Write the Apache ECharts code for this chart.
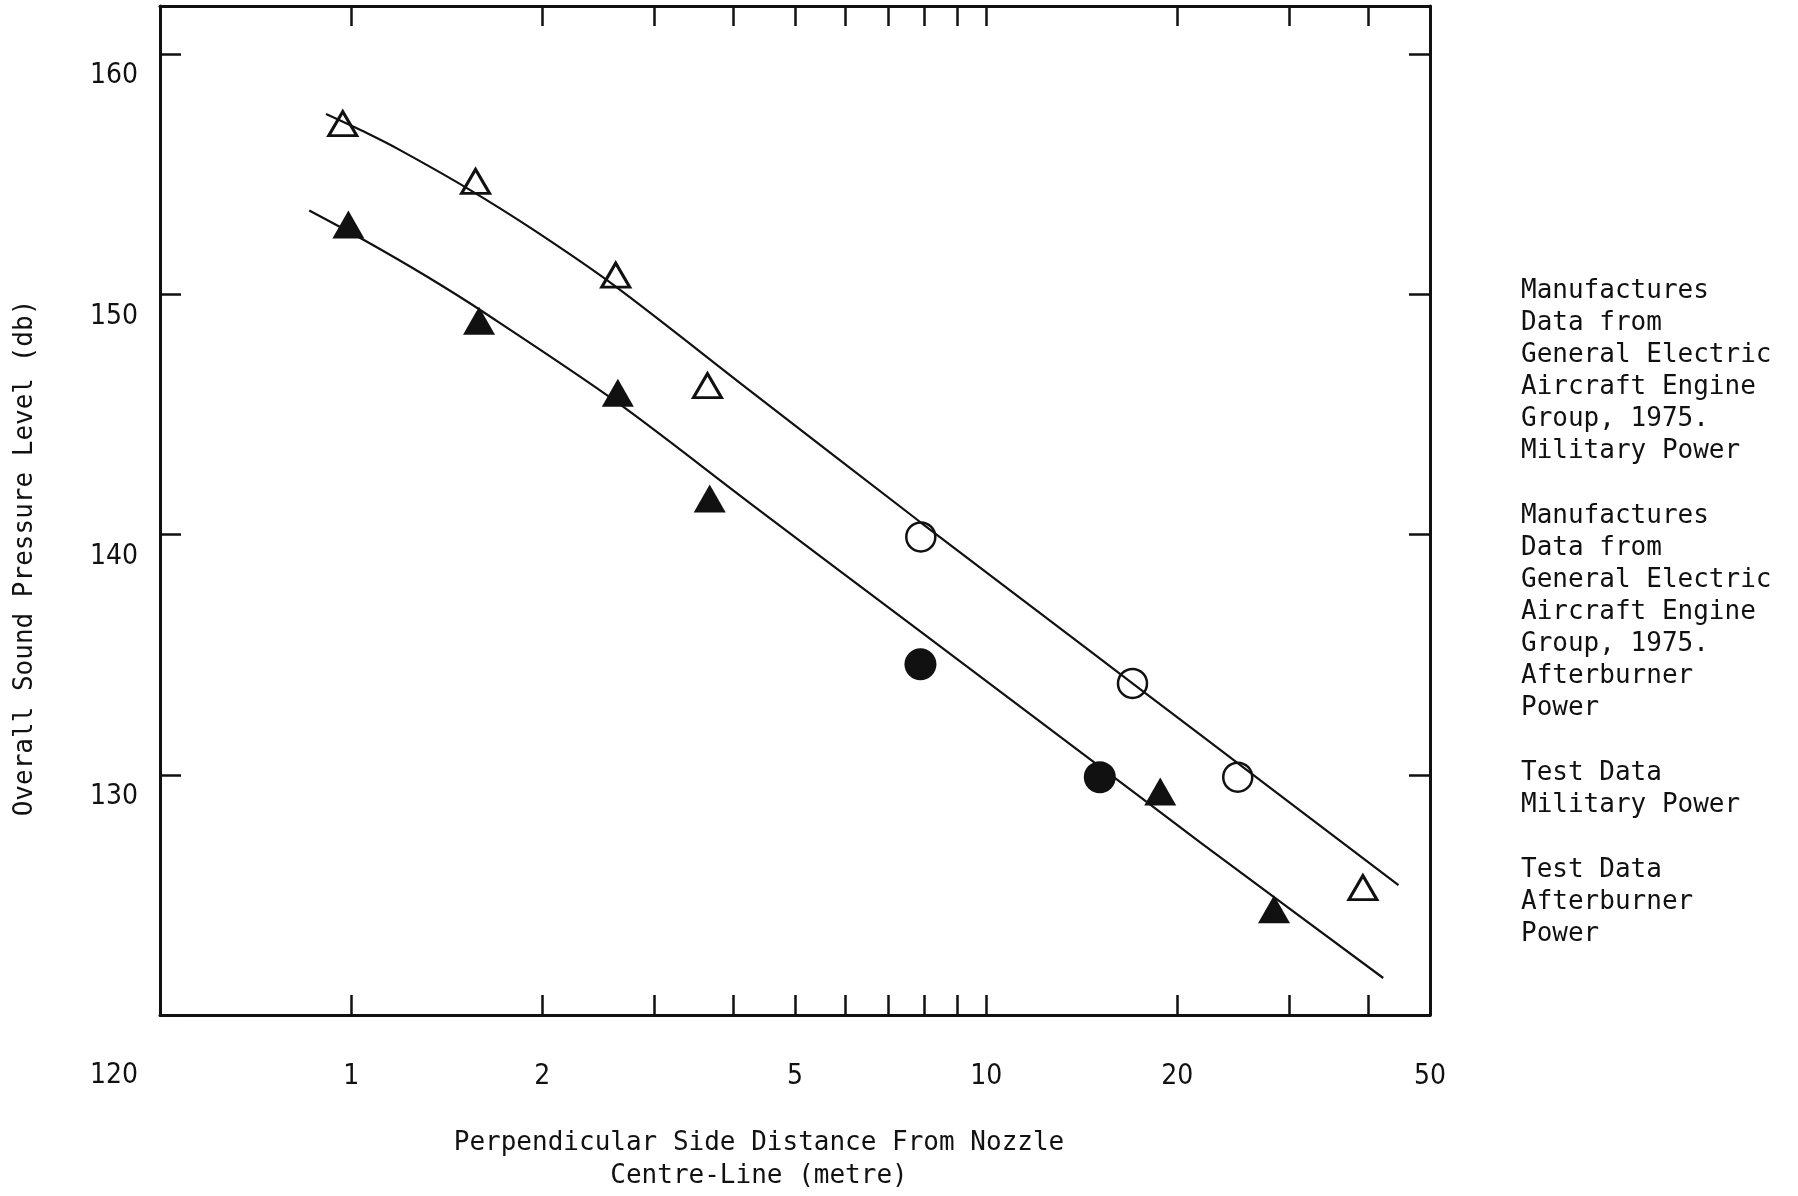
<!DOCTYPE html>
<html>
<head>
<meta charset="utf-8">
<title>Overall Sound Pressure Level vs Distance</title>
<script src="https://cdn.jsdelivr.net/npm/echarts@6/dist/echarts.min.js"></script>
<style>
  html, body { margin: 0; padding: 0; background: #fff; }
  #chart { width: 1798px; height: 1196px; }
</style>
</head>
<body>
<div id="chart"></div>
<script>
// distances (metre) and overall SPL (db)
const manuMilDist = [0.97, 1.57, 2.61, 3.64, 39.2];
const manuMilSpl = [157.1, 154.7, 150.8, 146.2, 125.3];

const manuAbDist = [0.99, 1.59, 2.63, 3.67, 18.8, 28.4];
const manuAbSpl = [152.9, 148.9, 145.9, 141.5, 129.3, 124.4];

const testMilDist = [7.89, 17.0, 24.9];
const testMilSpl = [139.9, 133.8, 129.9];

const testAbDist = [7.88, 15.1];
const testAbSpl = [134.6, 129.9];

// hand drawn fitted curves
const upperCurveDist = [0.913, 1.06, 1.194, 1.517, 1.935, 2.604, 4.25, 7.9, 14.22, 21.73, 44.6];
const upperCurveSpl = [157.5, 156.7, 156.0, 154.44, 152.69, 150.34, 145.98, 140.49, 135.36, 131.67, 125.41];
const lowerCurveDist = [0.859, 1.044, 1.308, 1.637, 2.624, 4.25, 7.79, 14.22, 21.73, 42.2];
const lowerCurveSpl = [153.49, 152.28, 150.78, 149.16, 145.5, 141.3, 136.06, 130.86, 127.19, 121.54];

// axis ticks / labels
const xTickValues = [1, 2, 3, 4, 5, 6, 7, 8, 9, 10, 20, 30, 40];
const xLabelValues = [1, 2, 5, 10, 20, 50];
const yTickValues = [120, 130, 140, 150, 160];

const seriesNames = [
  "Manufactures\nData from\nGeneral Electric\nAircraft Engine\nGroup, 1975.\nMilitary Power",
  "Manufactures\nData from\nGeneral Electric\nAircraft Engine\nGroup, 1975.\nAfterburner\nPower",
  "Test Data\nMilitary Power",
  "Test Data\nAfterburner\nPower",
];

const toPairs = (xs, ys) => xs.map((x, i) => [x, ys[i]]);

const INK = "#111";
const numFont = "'DejaVu Sans Condensed', 'Liberation Sans Narrow', 'Liberation Mono', monospace";
const textFont = "'DejaVu Sans Mono', 'Liberation Mono', monospace";

const chart = echarts.init(document.getElementById("chart"));

const frameLine = { show: true, onZero: false, lineStyle: { color: INK, width: 3 } };
const tickStyle = { color: INK, width: 2.5 };

const xAxisBase = {
  type: "log",
  logBase: 10,
  min: 0.5,
  max: 50,
  axisLine: frameLine,
  axisTick: { show: true, inside: true, length: 20, customValues: xTickValues, lineStyle: tickStyle },
  splitLine: { show: false },
  minorTick: { show: false },
};
const yAxisBase = {
  type: "value",
  min: 120,
  max: 162,
  axisLine: frameLine,
  axisTick: { show: true, inside: true, length: 21, customValues: yTickValues, lineStyle: tickStyle },
  splitLine: { show: false },
};

const option = {
  animation: false,
  backgroundColor: "#fff",
  grid: { left: 160, right: 368, top: 6, bottom: 181, containLabel: false, outerBoundsMode: "none" },
  legend: {
    data: seriesNames,
    orient: "vertical",
    left: 1506,
    top: 275,
    padding: 0,
    icon: "none",
    itemWidth: 10,
    itemHeight: 10,
    itemGap: 33,
    selectedMode: false,
    textStyle: { fontFamily: textFont, fontSize: 26, lineHeight: 32, color: INK },
  },
  xAxis: [
    {
      ...xAxisBase,
      position: "bottom",
      axisLabel: {
        customValues: xLabelValues,
        margin: 48,
        fontFamily: numFont,
        fontSize: 28,
        color: INK,
        formatter: (v) => String(Math.round(v)),
      },
      name: "Perpendicular Side Distance From Nozzle\nCentre-Line (metre)",
      nameLocation: "middle",
      nameGap: 112,
      nameTextStyle: {
        fontFamily: textFont,
        fontSize: 26,
        lineHeight: 33,
        color: INK,
        align: "center",
        padding: [0, 72, 0, 0],
      },
    },
    { ...xAxisBase, position: "top", axisLabel: { show: false } },
  ],
  yAxis: [
    {
      ...yAxisBase,
      position: "left",
      axisLabel: {
        customValues: yTickValues,
        margin: 22,
        verticalAlign: "top",
        formatter: (v) => (v === 120 ? "{low|120}" : "{n|" + v + "}"),
        rich: {
          n: { fontFamily: numFont, fontSize: 28, color: INK, padding: [8, 0, 0, 0] },
          low: { fontFamily: numFont, fontSize: 28, color: INK, padding: [47, 0, 0, 0] },
        },
      },
      name: "Overall Sound Pressure Level (db)",
      nameLocation: "middle",
      nameGap: 122,
      nameTextStyle: {
        fontFamily: "'DejaVu Sans Mono', monospace",
        fontSize: 26,
        color: INK,
        padding: [0, 95, 0, 0],
      },
    },
    { ...yAxisBase, position: "right", axisLabel: { show: false } },
  ],
  series: [
    {
      name: seriesNames[0],
      type: "scatter",
      symbol: "triangle",
      symbolSize: [28, 24],
      itemStyle: { color: "rgba(255,255,255,0)", borderColor: INK, borderWidth: 3, opacity: 1 },
      data: toPairs(manuMilDist, manuMilSpl),
      z: 4,
    },
    {
      name: seriesNames[1],
      type: "scatter",
      symbol: "triangle",
      symbolSize: [32, 28],
      itemStyle: { color: INK, opacity: 1 },
      data: toPairs(manuAbDist, manuAbSpl),
      z: 4,
    },
    {
      name: seriesNames[2],
      type: "scatter",
      symbol: "circle",
      symbolSize: 29,
      itemStyle: { color: "rgba(255,255,255,0)", borderColor: INK, borderWidth: 2.5, opacity: 1 },
      data: toPairs(testMilDist, testMilSpl),
      z: 4,
    },
    {
      name: seriesNames[3],
      type: "scatter",
      symbol: "circle",
      symbolSize: 32,
      itemStyle: { color: INK, opacity: 1 },
      data: toPairs(testAbDist, testAbSpl),
      z: 4,
    },
    {
      name: "upper fit",
      type: "line",
      smooth: 0.3,
      showSymbol: false,
      lineStyle: { color: INK, width: 2.2 },
      data: toPairs(upperCurveDist, upperCurveSpl),
      z: 3,
    },
    {
      name: "lower fit",
      type: "line",
      smooth: 0.3,
      showSymbol: false,
      lineStyle: { color: INK, width: 2.2 },
      data: toPairs(lowerCurveDist, lowerCurveSpl),
      z: 3,
    },
  ],
};

chart.setOption(option);
window.addEventListener("resize", () => chart.resize());
</script>
</body>
</html>
